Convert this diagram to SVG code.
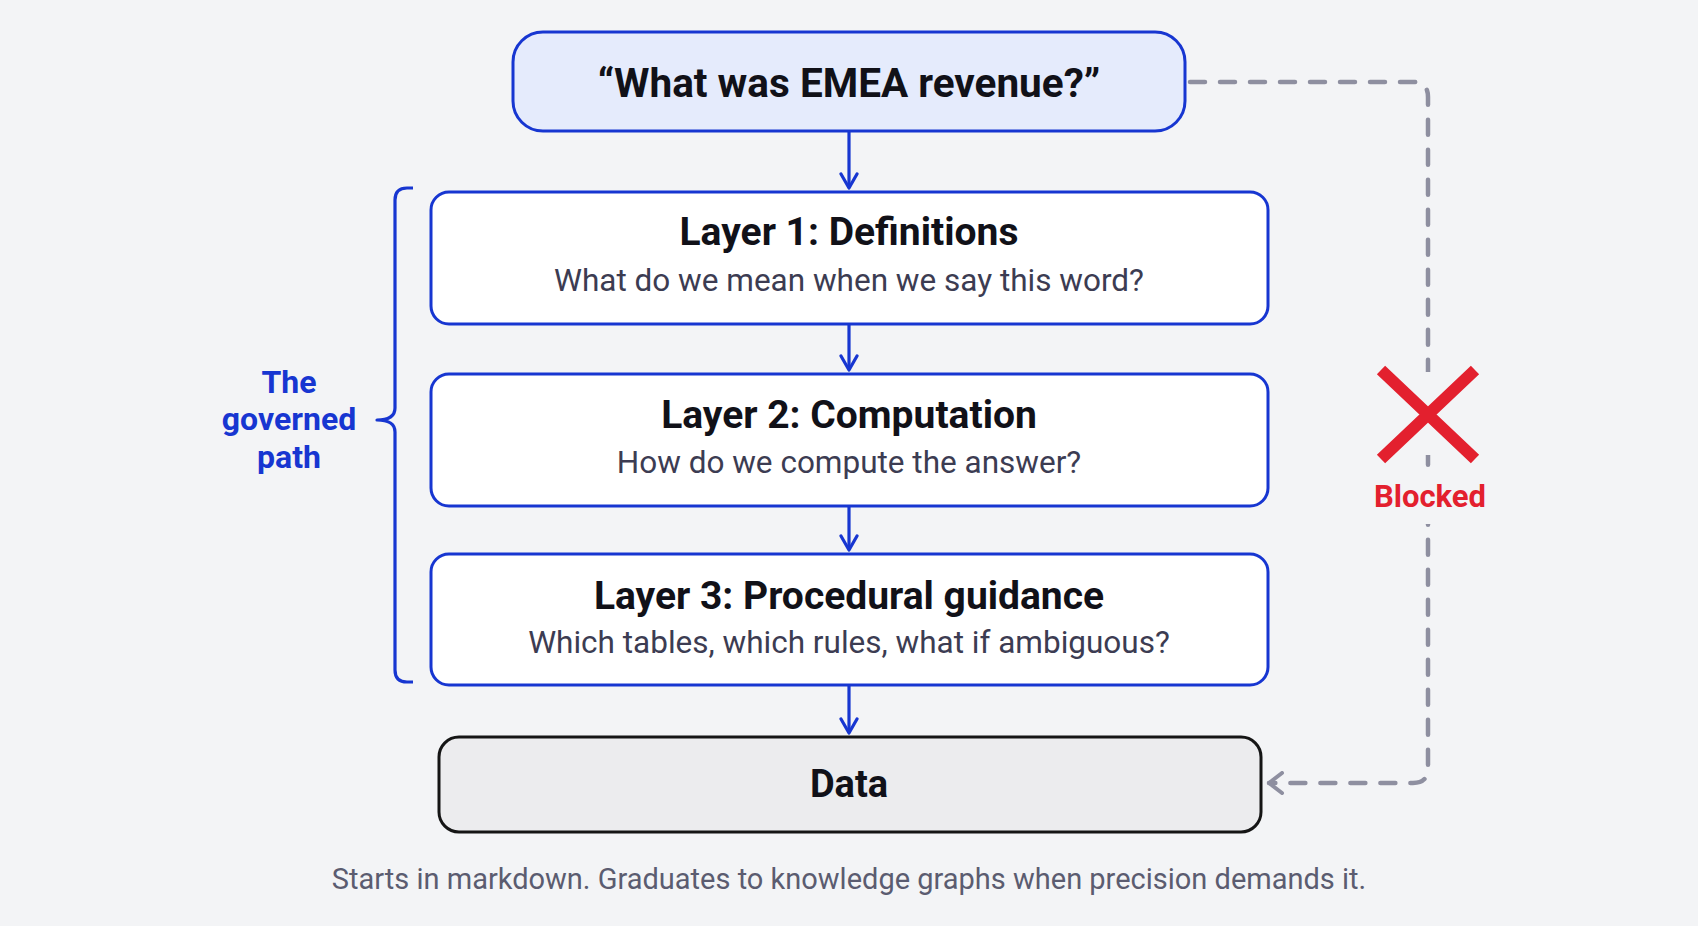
<svg xmlns="http://www.w3.org/2000/svg" width="1698" height="926" viewBox="0 0 1698 926">
<defs>
<style>
.bold{font-family:Roboto,"Liberation Sans",sans-serif;font-weight:700;}
.reg{font-family:Roboto,"Liberation Sans",sans-serif;font-weight:400;}
.title{font-size:39px;fill:#111118;}
.sub{font-size:31.5px;fill:#3c3c52;}
.layer{fill:#ffffff;stroke:#1736d1;stroke-width:3;}
.flow{fill:none;stroke:#1736d1;stroke-width:3.2;}
.blue{fill:#1736d1;}
</style>
<marker id="ah" viewBox="0 0 20 20" refX="16" refY="10" markerWidth="20" markerHeight="20" markerUnits="userSpaceOnUse" orient="auto">
<path d="M2,2 L16,10 L2,18" fill="none" stroke="#1736d1" stroke-width="3.2" stroke-linecap="round" stroke-linejoin="round"/>
</marker>
<marker id="ahg" viewBox="0 0 20 24" refX="17" refY="12" markerWidth="20" markerHeight="24" markerUnits="userSpaceOnUse" orient="auto">
<path d="M4,2 L17,12 L4,22" fill="none" stroke="#8e8fa0" stroke-width="4" stroke-linecap="round" stroke-linejoin="round"/>
</marker>
</defs>
<rect width="1698" height="926" fill="#f3f4f6"/>

<g id="connectors">
<path class="flow" d="M849,132 V188" marker-end="url(#ah)"/>
<path class="flow" d="M849,324 V370" marker-end="url(#ah)"/>
<path class="flow" d="M849,506 V550" marker-end="url(#ah)"/>
<path class="flow" d="M849,685 V733" marker-end="url(#ah)"/>
<path id="bypass" d="M1190,82 H1413 Q1428,82 1428,97 V768 Q1428,783 1413,783 H1269" fill="none" stroke="#8e8fa0" stroke-width="4.5" stroke-linecap="round" stroke-dasharray="15 15" marker-end="url(#ahg)"/>
</g>

<g id="question">
<rect x="513" y="32" width="672" height="99" rx="30" fill="#e5ebfc" stroke="#1736d1" stroke-width="3"/>
<text class="bold" font-size="40.5" fill="#111118" x="849" y="97" text-anchor="middle">“What was EMEA revenue?”</text>
</g>

<g id="layer1">
<rect class="layer" x="431" y="192" width="837" height="132" rx="18"/>
<text class="bold title" x="849" y="245" text-anchor="middle">Layer 1: Definitions</text>
<text class="reg sub" x="849" y="291" text-anchor="middle">What do we mean when we say this word?</text>
</g>

<g id="layer2">
<rect class="layer" x="431" y="374" width="837" height="132" rx="18"/>
<text class="bold title" x="849" y="428" text-anchor="middle">Layer 2: Computation</text>
<text class="reg sub" x="849" y="473" text-anchor="middle">How do we compute the answer?</text>
</g>

<g id="layer3">
<rect class="layer" x="431" y="554" width="837" height="131" rx="18"/>
<text class="bold title" x="849" y="609" text-anchor="middle" font-size="40">Layer 3: Procedural guidance</text>
<text class="reg sub" x="849" y="653" text-anchor="middle">Which tables, which rules, what if ambiguous?</text>
</g>

<g id="data">
<rect x="439" y="737" width="822" height="95" rx="20" fill="#ececee" stroke="#151515" stroke-width="3"/>
<text class="bold" font-size="38" fill="#111118" x="849" y="797" text-anchor="middle">Data</text>
</g>

<g id="governed-path">
<path d="M413,188 H407 Q395,188 395,200 V408 Q395,420 377,420 Q395,420 395,432 V670 Q395,682 407,682 H413" fill="none" stroke="#1736d1" stroke-width="3.2" stroke-linejoin="round"/>
<text class="bold blue" font-size="32" x="289" y="393" text-anchor="middle">The</text>
<text class="bold blue" font-size="32" x="289" y="430" text-anchor="middle">governed</text>
<text class="bold blue" font-size="32" x="289" y="468" text-anchor="middle">path</text>
</g>

<g id="blocked">
<rect x="1410" y="372" width="36" height="83" fill="#f3f4f6"/>
<rect x="1370" y="474" width="122" height="50" fill="#f3f4f6"/>
<path d="M1381,370 L1475,459 M1475,370 L1381,459" stroke="#e3202e" stroke-width="12" fill="none"/>
<text class="bold" font-size="31" fill="#e3202e" x="1430" y="507" text-anchor="middle">Blocked</text>
</g>

<text id="caption" class="reg" font-size="29" fill="#5b5c70" x="849" y="889" text-anchor="middle">Starts in markdown. Graduates to knowledge graphs when precision demands it.</text>
</svg>
